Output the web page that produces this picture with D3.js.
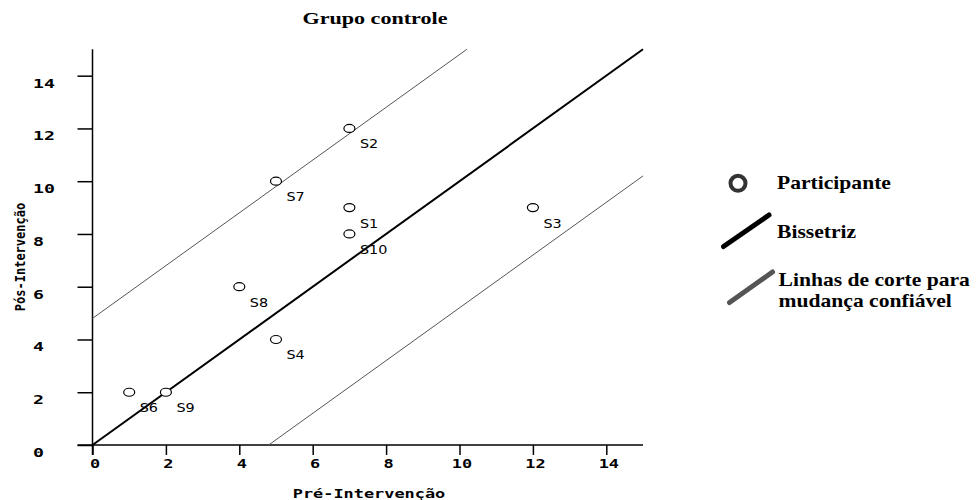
<!DOCTYPE html>
<html>
<head>
<meta charset="utf-8">
<script src="https://cdn.jsdelivr.net/npm/d3@7"></script>
<style>
  body { margin: 0; background: #fff; }
  svg { display: block; }
</style>
</head>
<body>
<svg id="chart" width="979" height="500"></svg>
<script>
// data
var participants = ["S1", "S2", "S3", "S4", "S6", "S7", "S8", "S9", "S10"];
var preScores = [7, 7, 12, 5, 1, 5, 4, 2, 7];
var postScores = [9, 12, 9, 4, 2, 10, 6, 2, 8];
var tickValues = [0, 2, 4, 6, 8, 10, 12, 14];
var cutoff = 4.8;
var legendLabels = ["Participante", "Bissetriz", "Linhas de corte para", "mudança confiável"];

var axisFont = "'DejaVu Sans Mono', monospace";
var serifFont = "'Liberation Serif', 'Times New Roman', serif";
var stretch = 1.3;

var svg = d3.select("#chart");

var x = d3.scaleLinear().domain([0, 15]).range([92.5, 643]);
var y = d3.scaleLinear().domain([0, 15]).range([445, 49.3]);

// title
svg.append("text")
    .attr("transform", "translate(375,24) scale(" + stretch + ",1)")
    .attr("text-anchor", "middle")
    .style("font-family", serifFont)
    .style("font-weight", "bold")
    .style("font-size", "17px")
    .text("Grupo controle");

// axes
var xAxis = d3.axisBottom(x).tickValues(tickValues).tickSize(10).tickSizeOuter(0);
var yAxis = d3.axisLeft(y).tickValues(tickValues).tickSize(15).tickSizeOuter(0);

var gx = svg.append("g").attr("transform", "translate(0," + y(0) + ")").call(xAxis);
var gy = svg.append("g").attr("transform", "translate(" + x(0) + ",0)").call(yAxis);

[gx, gy].forEach(function(g) {
    g.select(".domain").remove();
    g.selectAll(".tick line").attr("stroke", "#000").attr("stroke-width", 1.5);
    g.selectAll(".tick text")
        .attr("fill", "#000")
        .style("font-family", axisFont)
        .style("font-weight", "bold")
        .style("font-size", "13px");
});

gx.selectAll(".tick text")
    .attr("x", null).attr("y", null).attr("dy", null)
    .attr("transform", "translate(2,22.5) scale(" + stretch + ",1)");

gy.selectAll(".tick text")
    .attr("x", null).attr("dy", null)
    .attr("text-anchor", "start")
    .attr("transform", "translate(-59.5,11.5) scale(1.4,1)");

// axis lines, running past the origin like the original
svg.append("line")
    .attr("x1", x(0) - 15).attr("x2", x(15))
    .attr("y1", y(0)).attr("y2", y(0))
    .attr("stroke", "#000").attr("stroke-width", 1.5);
svg.append("line")
    .attr("x1", x(0)).attr("x2", x(0))
    .attr("y1", y(15)).attr("y2", y(0) + 10)
    .attr("stroke", "#000").attr("stroke-width", 1.5);

// axis titles
svg.append("text")
    .attr("transform", "translate(369,498) scale(" + stretch + ",1)")
    .attr("text-anchor", "middle")
    .style("font-family", axisFont)
    .style("font-weight", "bold")
    .style("font-size", "13px")
    .text("Pré-Intervenção");

svg.append("text")
    .attr("transform", "translate(25,257) rotate(-90) scale(1,1.2)")
    .attr("text-anchor", "middle")
    .style("font-family", axisFont)
    .style("font-weight", "bold")
    .style("font-size", "12px")
    .text("Pós-Intervenção");

// bisector and reliable change cut-off lines
var lines = [
    { from: [0, 0], to: [15, 15], color: "#000", width: 2 },
    { from: [0, cutoff], to: [15 - cutoff, 15], color: "#555", width: 1 },
    { from: [cutoff, 0], to: [15, 15 - cutoff], color: "#555", width: 1 }
];
svg.selectAll("line.ref")
    .data(lines)
    .enter().append("line")
    .attr("class", "ref")
    .attr("x1", function(d) { return x(d.from[0]); })
    .attr("y1", function(d) { return y(d.from[1]); })
    .attr("x2", function(d) { return x(d.to[0]); })
    .attr("y2", function(d) { return y(d.to[1]); })
    .attr("stroke", function(d) { return d.color; })
    .attr("stroke-width", function(d) { return d.width; });

// participants
var pts = participants.map(function(p, i) {
    return { name: p, pre: preScores[i], post: postScores[i] };
});

svg.selectAll("ellipse.pt")
    .data(pts)
    .enter().append("ellipse")
    .attr("class", "pt")
    .attr("cx", function(d) { return x(d.pre); })
    .attr("cy", function(d) { return y(d.post); })
    .attr("rx", 5.5)
    .attr("ry", 4)
    .attr("fill", "#fff")
    .attr("stroke", "#000")
    .attr("stroke-width", 1.2);

svg.selectAll("text.pt")
    .data(pts)
    .enter().append("text")
    .attr("class", "pt")
    .attr("transform", function(d) {
        return "translate(" + (x(d.pre) + 10.5) + "," + (y(d.post) + 20) + ") scale(1.15,1)";
    })
    .style("font-family", "'DejaVu Sans', sans-serif")
    .style("font-size", "12.5px")
    .text(function(d) { return d.name; });

// legend
var legend = svg.append("g");

legend.append("circle")
    .attr("cx", 738).attr("cy", 183.3).attr("r", 7.5)
    .attr("fill", "none").attr("stroke", "#333").attr("stroke-width", 4);
legend.append("line")
    .attr("x1", 723.5).attr("y1", 246.5).attr("x2", 769).attr("y2", 215)
    .attr("stroke", "#000").attr("stroke-width", 5).attr("stroke-linecap", "round");
legend.append("line")
    .attr("x1", 729.5).attr("y1", 302.5).attr("x2", 772.5).attr("y2", 272)
    .attr("stroke", "#555").attr("stroke-width", 5).attr("stroke-linecap", "round");

var legendPos = [[777, 189.3], [777, 237.7], [778.5, 285.5], [778.5, 306.7]];
legend.selectAll("text")
    .data(legendLabels)
    .enter().append("text")
    .attr("transform", function(d, i) {
        return "translate(" + legendPos[i][0] + "," + legendPos[i][1] + ") scale(1.2,1)";
    })
    .style("font-family", serifFont)
    .style("font-weight", "bold")
    .style("font-size", "18px")
    .text(function(d) { return d; });
</script>
</body>
</html>
